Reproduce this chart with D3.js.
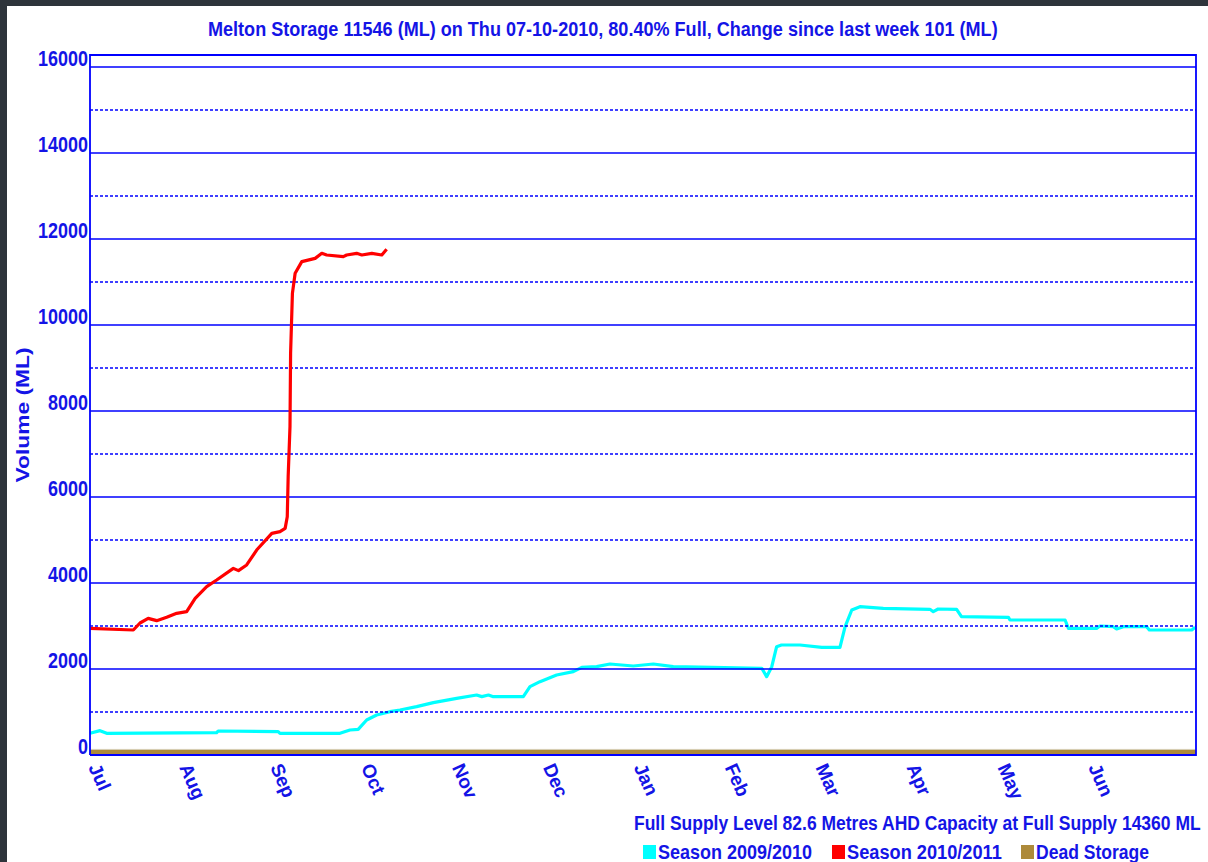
<!DOCTYPE html>
<html>
<head>
<meta charset="utf-8">
<script src="https://cdn.jsdelivr.net/npm/d3@7/dist/d3.min.js"></script>
<style>
  html, body { margin: 0; padding: 0; background: #2e343b; }
  svg { display: block; }
</style>
</head>
<body>
<svg id="chart" width="1208" height="862"></svg>
<script>
// ---------- DATA ----------
const titleText = "Melton Storage 11546 (ML) on Thu 07-10-2010, 80.40% Full, Change since last week 101 (ML)";
const footerText = "Full Supply Level 82.6 Metres AHD  Capacity at Full Supply 14360 ML";
const yAxisTitle = "Volume (ML)";
const months = ["Jul","Aug","Sep","Oct","Nov","Dec","Jan","Feb","Mar","Apr","May","Jun"];
const monthTickDays = [0,30,60,90,120,150,180,210,240,270,300,330];
const majorTicks = [0,2000,4000,6000,8000,10000,12000,14000,16000];
const minorTicks = [1000,3000,5000,7000,9000,11000,13000,15000];
const deadStorage = 130;

// Season 2009/2010 (day of season, volume ML)
const s0910Days = [0,3.3,5.5,41.8,42.3,62.1,62.7,82.5,85.8,88.5,91.3,94.6,99,102.3,107.8,113.3,121,127.6,129.3,131.5,133.1,143,145.2,148.5,154,159.5,162.3,167.2,171.6,179.3,185.9,192.5,205.2,221.7,223.3,225,226.6,228.2,234.3,241.5,247.5,249.2,251.4,254.1,261.8,277.2,278.3,279.9,286,287.6,303.1,303.6,321.8,322.9,332.2,333.3,337.7,338.8,341,348.7,349.6,363.6,364.7];
const s0910Vals = [504,566,504,519,558,543,504,504,581,597,814,930,1007,1047,1124,1217,1318,1395,1357,1395,1357,1357,1589,1705,1860,1938,2039,2054,2116,2070,2116,2054,2039,2016,1822,2054,2519,2558,2558,2504,2504,2984,3372,3449,3411,3388,3333,3395,3388,3217,3202,3140,3140,2946,2946,3000,2984,2930,2984,2984,2907,2907,2969];

// Season 2010/2011
const s1011Days = [0,14.3,16.5,19.2,22,25.3,28.6,31.9,34.7,38.5,41.8,47.3,49,51.7,55,60,62.7,64.4,65.1,65.4,66,66.2,66.8,67.7,69.9,74.3,76.5,78.1,83.6,84.7,88,89.7,93,96.3,97.9];
const s1011Vals = [2946,2907,3070,3178,3124,3202,3295,3333,3644,3915,4070,4341,4287,4419,4767,5155,5194,5271,5542,6473,7636,9341,10736,11202,11473,11550,11667,11628,11589,11628,11667,11628,11667,11628,11760];

const legendLabels = ["Season 2009/2010","Season 2010/2011","Dead Storage"];
const legendColors = ["#00ffff","#ff0000","#ad8a3a"];

// ---------- LAYOUT ----------
const BLUE = "#0000ff";
const TEXTBLUE = "#1414e6";
const FONT = "'Liberation Sans', Arial, sans-serif";
const svg = d3.select("#chart");
const plot = {left: 90, right: 1196, top: 55, bottom: 755};

// Place text horizontally squeezed to a given width, starting at x0 (left edge) with baseline y0
function fitText(parent, str, x0, y0, width, size) {
  const g = parent.append("g");
  const t = g.append("text")
    .attr("font-family", FONT).attr("font-weight", "bold").attr("font-size", size)
    .attr("fill", TEXTBLUE).text(str);
  const natural = t.node().getComputedTextLength();
  g.attr("transform", `translate(${x0},${y0}) scale(${width / natural},1)`);
  return g;
}

svg.append("rect").attr("x", 7).attr("y", 6).attr("width", 1201).attr("height", 856).attr("fill", "#ffffff");

const x = d3.scaleLinear().domain([0, 365]).range([plot.left, plot.right]);
const y = d3.scaleLinear().domain([0, 16000]).range([plot.bottom, 67]);

// title
fitText(svg, titleText, 208, 36, 790, 21);

// dead storage band
svg.append("rect")
  .attr("x", x(0)).attr("width", x(365) - x(0))
  .attr("y", y(deadStorage)).attr("height", y(0) - y(deadStorage))
  .attr("fill", legendColors[2]);
svg.append("line")
  .attr("x1", x(0)).attr("x2", x(365))
  .attr("y1", y(deadStorage)).attr("y2", y(deadStorage))
  .attr("stroke", "#d8d0b8").attr("stroke-width", 1);

const line = d3.line().x(d => x(d[0])).y(d => y(d[1]));

// cyan series (under grid)
svg.append("path")
  .datum(d3.zip(s0910Days, s0910Vals))
  .attr("d", line)
  .attr("fill", "none").attr("stroke", legendColors[0]).attr("stroke-width", 3.2)
  .attr("stroke-linejoin", "round");

// gridlines
const grid = svg.append("g");
grid.selectAll("line.major").data(majorTicks.filter(v => v > 0)).join("line")
  .attr("x1", plot.left).attr("x2", plot.right)
  .attr("y1", d => y(d)).attr("y2", d => y(d))
  .attr("stroke", BLUE).attr("stroke-width", 1.6);
grid.selectAll("line.minor").data(minorTicks).join("line")
  .attr("x1", plot.left).attr("x2", plot.right)
  .attr("y1", d => y(d)).attr("y2", d => y(d))
  .attr("stroke", BLUE).attr("stroke-width", 1.4)
  .attr("stroke-dasharray", "3,2");

// red series
svg.append("path")
  .datum(d3.zip(s1011Days, s1011Vals))
  .attr("d", line)
  .attr("fill", "none").attr("stroke", legendColors[1]).attr("stroke-width", 3.2)
  .attr("stroke-linejoin", "round");

// frame
svg.append("path")
  .attr("d", `M${plot.left},${plot.bottom}V${plot.top}H${plot.right}V${plot.bottom}H${plot.left}`)
  .attr("fill", "none").attr("stroke", BLUE).attr("stroke-width", 1.8);

// y axis labels (squeezed bold digits, baseline on gridline)
const yLab = svg.append("g");
majorTicks.forEach(v => {
  const s = d3.format("d")(v);
  const w = s.length * 10;
  fitText(yLab, s, plot.left - 2 - w, y(v) - 1, w, 22);
});

// y axis title
svg.append("text")
  .attr("transform", "translate(29,415) rotate(-90)")
  .attr("text-anchor", "middle")
  .attr("font-family", FONT)
  .attr("font-weight", "bold").attr("font-size", 19)
  .attr("fill", TEXTBLUE)
  .attr("textLength", 135).attr("lengthAdjust", "spacingAndGlyphs")
  .text(yAxisTitle);

// x axis month labels
svg.append("g").selectAll("text").data(months).join("text")
  .attr("transform", (d, i) => `translate(${x(monthTickDays[i]) + 12},${plot.bottom + 6}) rotate(66)`)
  .attr("dy", "0.8em")
  .attr("font-family", FONT)
  .attr("font-weight", "bold").attr("font-size", 19)
  .attr("fill", TEXTBLUE)
  .text(d => d);

// footer
fitText(svg, footerText, 634, 830, 567, 21);

// legend
const legendX = [643, 832, 1021];
const legendW = [154, 155, 113];
legendLabels.forEach((lab, i) => {
  svg.append("rect").attr("x", legendX[i]).attr("y", 845).attr("width", 13).attr("height", 14)
    .attr("fill", legendColors[i]);
  fitText(svg, lab, legendX[i] + 15, 859, legendW[i], 21);
});
</script>
</body>
</html>
